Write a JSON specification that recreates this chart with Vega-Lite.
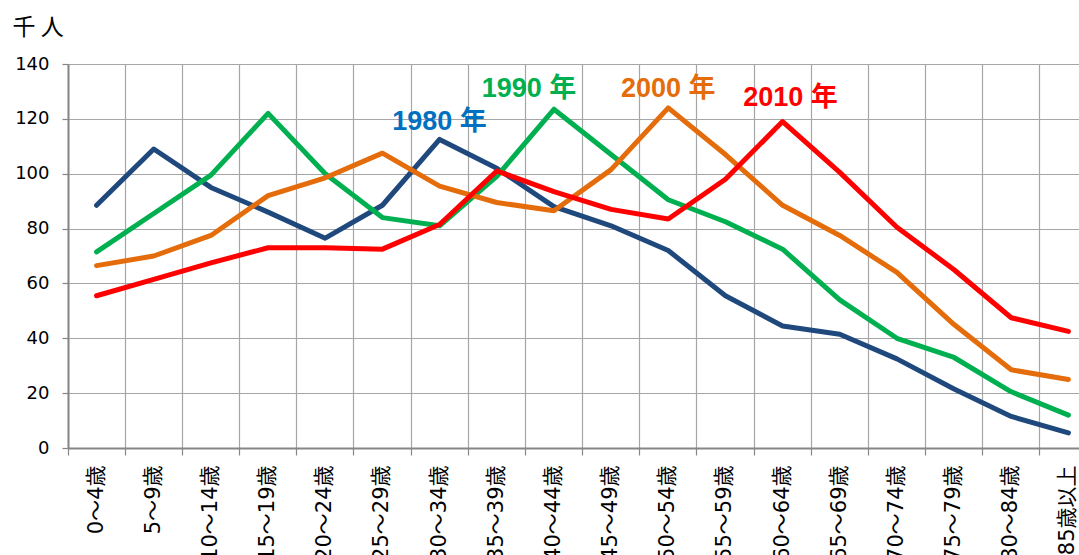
{
  "$schema": "https://vega.github.io/schema/vega-lite/v6.json",
  "autosize": {"type": "none"},
  "padding": {"left": 68, "top": 64, "right": 0, "bottom": 107},
  "width": 1011,
  "height": 384,
  "background": "white",
  "config": {"view": {"stroke": null}},
  "datasets": {
    "pop": [
      {"age": "0～4歳", "year": "1980年", "value": 88.5},
      {"age": "5～9歳", "year": "1980年", "value": 109},
      {"age": "10～14歳", "year": "1980年", "value": 95},
      {"age": "15～19歳", "year": "1980年", "value": 86},
      {"age": "20～24歳", "year": "1980年", "value": 76.5},
      {"age": "25～29歳", "year": "1980年", "value": 88.5},
      {"age": "30～34歳", "year": "1980年", "value": 112.5},
      {"age": "35～39歳", "year": "1980年", "value": 102},
      {"age": "40～44歳", "year": "1980年", "value": 88},
      {"age": "45～49歳", "year": "1980年", "value": 81},
      {"age": "50～54歳", "year": "1980年", "value": 72},
      {"age": "55～59歳", "year": "1980年", "value": 55.5},
      {"age": "60～64歳", "year": "1980年", "value": 44.5},
      {"age": "65～69歳", "year": "1980年", "value": 41.5},
      {"age": "70～74歳", "year": "1980年", "value": 32.5},
      {"age": "75～79歳", "year": "1980年", "value": 21.5},
      {"age": "80～84歳", "year": "1980年", "value": 11.5},
      {"age": "85歳以上", "year": "1980年", "value": 5.5},
      {"age": "0～4歳", "year": "1990年", "value": 71.5},
      {"age": "5～9歳", "year": "1990年", "value": 85.5},
      {"age": "10～14歳", "year": "1990年", "value": 99.5},
      {"age": "15～19歳", "year": "1990年", "value": 122},
      {"age": "20～24歳", "year": "1990年", "value": 100},
      {"age": "25～29歳", "year": "1990年", "value": 84},
      {"age": "30～34歳", "year": "1990年", "value": 81},
      {"age": "35～39歳", "year": "1990年", "value": 99},
      {"age": "40～44歳", "year": "1990年", "value": 123.5},
      {"age": "45～49歳", "year": "1990年", "value": 107},
      {"age": "50～54歳", "year": "1990年", "value": 90.5},
      {"age": "55～59歳", "year": "1990年", "value": 82.5},
      {"age": "60～64歳", "year": "1990年", "value": 72.5},
      {"age": "65～69歳", "year": "1990年", "value": 54},
      {"age": "70～74歳", "year": "1990年", "value": 40},
      {"age": "75～79歳", "year": "1990年", "value": 33},
      {"age": "80～84歳", "year": "1990年", "value": 20.5},
      {"age": "85歳以上", "year": "1990年", "value": 12},
      {"age": "0～4歳", "year": "2000年", "value": 66.5},
      {"age": "5～9歳", "year": "2000年", "value": 70},
      {"age": "10～14歳", "year": "2000年", "value": 77.5},
      {"age": "15～19歳", "year": "2000年", "value": 92},
      {"age": "20～24歳", "year": "2000年", "value": 98.5},
      {"age": "25～29歳", "year": "2000年", "value": 107.5},
      {"age": "30～34歳", "year": "2000年", "value": 95.5},
      {"age": "35～39歳", "year": "2000年", "value": 89.5},
      {"age": "40～44歳", "year": "2000年", "value": 86.5},
      {"age": "45～49歳", "year": "2000年", "value": 101.5},
      {"age": "50～54歳", "year": "2000年", "value": 124},
      {"age": "55～59歳", "year": "2000年", "value": 107},
      {"age": "60～64歳", "year": "2000年", "value": 88.5},
      {"age": "65～69歳", "year": "2000年", "value": 77.5},
      {"age": "70～74歳", "year": "2000年", "value": 64},
      {"age": "75～79歳", "year": "2000年", "value": 45},
      {"age": "80～84歳", "year": "2000年", "value": 28.5},
      {"age": "85歳以上", "year": "2000年", "value": 25},
      {"age": "0～4歳", "year": "2010年", "value": 55.5},
      {"age": "5～9歳", "year": "2010年", "value": 61.5},
      {"age": "10～14歳", "year": "2010年", "value": 67.5},
      {"age": "15～19歳", "year": "2010年", "value": 73},
      {"age": "20～24歳", "year": "2010年", "value": 73},
      {"age": "25～29歳", "year": "2010年", "value": 72.5},
      {"age": "30～34歳", "year": "2010年", "value": 81.5},
      {"age": "35～39歳", "year": "2010年", "value": 101},
      {"age": "40～44歳", "year": "2010年", "value": 93.5},
      {"age": "45～49歳", "year": "2010年", "value": 87},
      {"age": "50～54歳", "year": "2010年", "value": 83.5},
      {"age": "55～59歳", "year": "2010年", "value": 98},
      {"age": "60～64歳", "year": "2010年", "value": 119},
      {"age": "65～69歳", "year": "2010年", "value": 100.5},
      {"age": "70～74歳", "year": "2010年", "value": 80.5},
      {"age": "75～79歳", "year": "2010年", "value": 65},
      {"age": "80～84歳", "year": "2010年", "value": 47.5},
      {"age": "85歳以上", "year": "2010年", "value": 42.5}
    ],
    "labels": [
      {"age": "30～34歳", "year": "1980年", "value": 115.8, "text": "1980 年"},
      {"age": "40～44歳", "year": "1990年", "value": 127.8, "text": "1990 年"},
      {"age": "50～54歳", "year": "2000年", "value": 127.8, "text": "2000 年"},
      {"age": "60～64歳", "year": "2010年", "value": 124.8, "text": "2010 年"}
    ]
  },
  "layer": [
    {
      "data": {"name": "pop"},
      "mark": {"type": "line", "strokeWidth": 5, "strokeJoin": "round", "strokeCap": "round"},
      "encoding": {
        "x": {
          "field": "age", "type": "nominal", "bandPosition": 0.5,
          "scale": {
            "type": "band", "paddingInner": 0, "paddingOuter": 0, "range": [0, 1029],
            "domain": ["0～4歳","5～9歳","10～14歳","15～19歳","20～24歳","25～29歳","30～34歳","35～39歳","40～44歳","45～49歳","50～54歳","55～59歳","60～64歳","65～69歳","70～74歳","75～79歳","80～84歳","85歳以上"]
          },
          "axis": {
            "title": null, "bandPosition": 0, "grid": true, "gridColor": "#A6A6A6", "gridWidth": 1.2,
            "domainColor": "#868686", "domainWidth": 2, "tickColor": "#868686", "tickWidth": 1.2, "tickSize": 7,
            "labelAngle": 270, "labelAlign": "right", "labelBaseline": "middle", "labelOffset": 0,
            "labelPadding": 10, "labelFont": "DejaVu Sans, Noto Sans CJK JP", "labelFontSize": 21, "labelColor": "#000000",
            "labelOverlap": false, "labelLimit": 0
          }
        },
        "y": {
          "field": "value", "type": "quantitative",
          "scale": {"domain": [0, 140], "nice": false, "zero": true},
          "axis": {
            "values": [0, 20, 40, 60, 80, 100, 120, 140], "grid": true, "gridColor": "#A6A6A6", "gridWidth": 1.2,
            "domainColor": "#868686", "domainWidth": 2, "tickColor": "#868686", "tickWidth": 1.2, "tickSize": 6,
            "labelPadding": 13, "labelFont": "DejaVu Sans", "labelFontSize": 18, "labelColor": "#000000",
            "title": "千 人", "titleAngle": 0, "titleAlign": "left", "titleBaseline": "alphabetic",
            "titleX": -56, "titleY": -30, "titleFont": "Noto Sans CJK JP", "titleFontSize": 23,
            "titleFontWeight": "normal", "titleColor": "#000000"
          }
        },
        "color": {
          "field": "year", "type": "nominal",
          "scale": {"domain": ["1980年","1990年","2000年","2010年"], "range": ["#1F497D","#00B050","#E46C0A","#FF0000"]},
          "legend": null
        }
      }
    },
    {
      "data": {"name": "labels"},
      "transform": [{"filter": "datum.year == '1980年'"}],
      "mark": {"type": "text", "font": "Liberation Sans, Noto Sans CJK JP", "fontSize": 27, "fontWeight": "bold", "baseline": "alphabetic", "align": "center", "dx": 0, "color": "#0070C0"},
      "encoding": {
        "x": {"field": "age", "type": "nominal", "bandPosition": 0.5},
        "y": {"field": "value", "type": "quantitative"},
        "text": {"field": "text"}
      }
    },
    {
      "data": {"name": "labels"},
      "transform": [{"filter": "datum.year == '1990年'"}],
      "mark": {"type": "text", "font": "Liberation Sans, Noto Sans CJK JP", "fontSize": 27, "fontWeight": "bold", "baseline": "alphabetic", "align": "center", "dx": -25, "color": "#00B050"},
      "encoding": {
        "x": {"field": "age", "type": "nominal", "bandPosition": 0.5},
        "y": {"field": "value", "type": "quantitative"},
        "text": {"field": "text"}
      }
    },
    {
      "data": {"name": "labels"},
      "transform": [{"filter": "datum.year == '2000年'"}],
      "mark": {"type": "text", "font": "Liberation Sans, Noto Sans CJK JP", "fontSize": 27, "fontWeight": "bold", "baseline": "alphabetic", "align": "center", "dx": 0, "color": "#E46C0A"},
      "encoding": {
        "x": {"field": "age", "type": "nominal", "bandPosition": 0.5},
        "y": {"field": "value", "type": "quantitative"},
        "text": {"field": "text"}
      }
    },
    {
      "data": {"name": "labels"},
      "transform": [{"filter": "datum.year == '2010年'"}],
      "mark": {"type": "text", "font": "Liberation Sans, Noto Sans CJK JP", "fontSize": 27, "fontWeight": "bold", "baseline": "alphabetic", "align": "center", "dx": 8, "color": "#FF0000"},
      "encoding": {
        "x": {"field": "age", "type": "nominal", "bandPosition": 0.5},
        "y": {"field": "value", "type": "quantitative"},
        "text": {"field": "text"}
      }
    }
  ]
}
